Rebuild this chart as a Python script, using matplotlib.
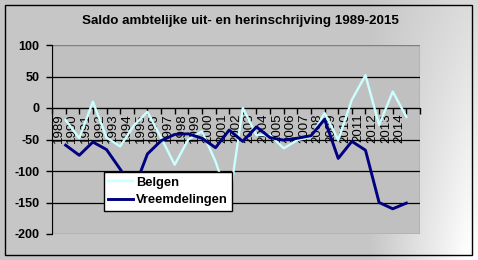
import numpy as np
import matplotlib.pyplot as plt
from matplotlib.patches import Rectangle

plt.rcParams['font.family'] = ['Liberation Sans', 'DejaVu Sans']

# data
years = [str(y) for y in range(1989, 2015)]
belgen = [-19, -48, 10, -47, -61, -28, -6, -47, -90, -50, -37, -85, -148,
          0, -43, -43, -64, -51, -46, -8, -51, 13, 52, -27, 26, -14]
vreemdelingen = [-59, -75, -54, -66, -97, -130, -73, -52, -42, -41, -48, -63, -35,
                 -53, -30, -47, -51, -48, -44, -18, -80, -53, -67, -150, -160, -151]
y_ticks = [100, 50, 0, -50, -100, -150, -200]

W, H = 478, 260
fig = plt.figure(figsize=(W / 100, H / 100), dpi=100)

# chart area background: gray with light corner bottom right
bg = fig.add_axes([0, 0, 1, 1], zorder=-10)
xx, yy = np.meshgrid(np.arange(W), np.arange(H))
t = np.clip((xx - 370) / 95, 0, 1) * (0.35 + 0.65 * yy / H)
g = 0.78 + (1 - 0.78) * t
bg.imshow(np.dstack([g, g, g]), extent=[0, W, H, 0], aspect='auto')
bg.add_patch(Rectangle((5, 5), 467, 250, fill=False, edgecolor='black', lw=1))
bg.set_xlim(0, W)
bg.set_ylim(H, 0)
bg.axis('off')

fig.text(240 / W, 1 - 21 / H, 'Saldo ambtelijke uit- en herinschrijving 1989-2015',
         ha='center', va='center', fontsize=9.6, fontweight='bold')

ax = fig.add_axes([52 / W, 26 / H, 368 / W, 189 / H])
ax.set_facecolor('#C0C0C0')

x = np.arange(1, len(years) + 1)
ax.plot(x, belgen, color='#CCFFFF', lw=1.7, label='Belgen', zorder=3)
ax.plot(x, vreemdelingen, color='#000080', lw=2.1, label='Vreemdelingen', zorder=3)

ax.set_xlim(0, len(years) + 1)
ax.set_ylim(-200, 100)

# y axis
ax.set_yticks(y_ticks)
ax.set_yticklabels([str(v) for v in y_ticks], fontsize=9, fontweight='bold')
ax.tick_params(axis='y', direction='out', length=4, width=1, color='black', pad=5)
ax.yaxis.grid(True, color='black', lw=0.9)
gl = ax.yaxis.get_gridlines()
gl[0].set_visible(False)
gl[-1].set_visible(False)

# category axis crosses at 0
ax.spines['bottom'].set_position(('data', 0))
ax.spines['bottom'].set_color('black')
ax.spines['left'].set_color('black')
ax.spines['top'].set_visible(False)
ax.spines['right'].set_visible(False)
ax.add_patch(Rectangle((0, 0), 1, 1, transform=ax.transAxes, fill=False,
                       edgecolor='#808080', lw=1, zorder=1))
ax.set_xticks(np.arange(0, len(years) + 2))
ax.set_xticklabels([])
ax.tick_params(axis='x', which='major', direction='out', length=4, width=1, color='black')
ax.set_xticks(np.arange(len(years)) + 0.5, minor=True)
ax.set_xticklabels(years, minor=True, rotation=90, fontsize=9.5)
ax.tick_params(axis='x', which='minor', length=0, pad=4)

leg = ax.legend(loc='upper left', bbox_to_anchor=(0.141, 0.328), borderaxespad=0,
                fancybox=False, framealpha=1, edgecolor='black',
                prop={'size': 9.3, 'weight': 'bold'}, handlelength=1.9,
                handletextpad=0.25, labelspacing=0.45, borderpad=0.35)
leg.get_frame().set_linewidth(1)

fig.savefig('out.png', dpi=100)
